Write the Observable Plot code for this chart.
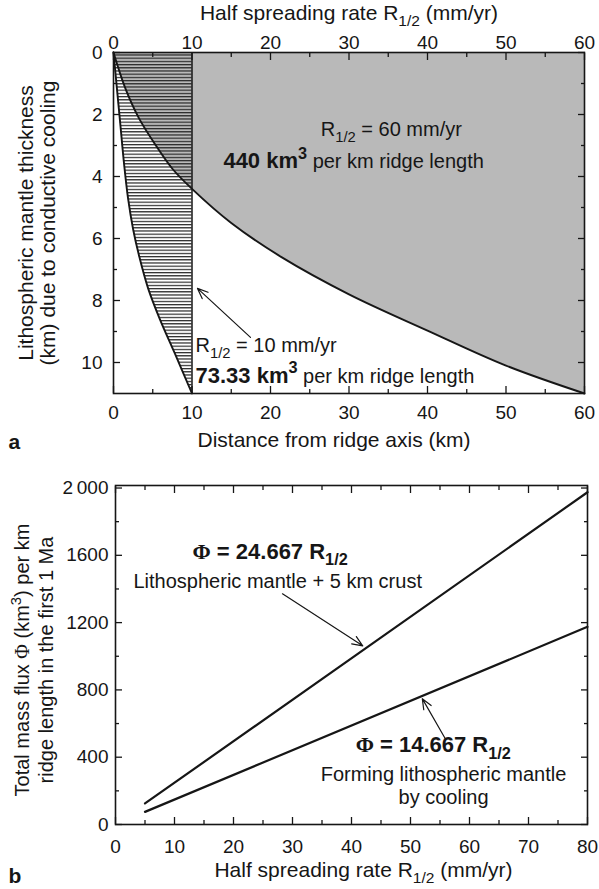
<!DOCTYPE html>
<html><head><meta charset="utf-8">
<script src="https://cdn.jsdelivr.net/npm/d3@7"></script>
<script src="https://cdn.jsdelivr.net/npm/@observablehq/plot@0.6"></script>
<style>body{margin:0;background:#fff;} svg{display:block;} text{white-space:pre;}</style>
</head><body><div id="chart"></div>
<script>
// ---------- Panel a data ----------
const distR60  = [0, 1.5, 3.2, 5.4, 7.5, 10, 15, 21.4, 30, 40, 50, 60];
const depthR60 = [0, 1.15, 2.1, 3.0, 3.75, 4.4, 5.5, 6.6, 7.8, 8.97, 10.1, 11];
const distR10  = [0, 0.45, 0.9, 1.35, 1.85, 2.5, 3.3, 4.4, 5.9, 7.8, 10];
const depthR10 = [0, 1.2, 2.4, 3.6, 4.7, 5.7, 6.6, 7.6, 8.6, 9.7, 11];
const hatchEdge = [10];

const aXLabels = [0, 10, 20, 30, 40, 50, 60];
const aXMinor  = [5, 15, 25, 35, 45, 55];
const aYLabels = [0, 2, 4, 6, 8, 10];
const aYMinor  = [1, 3, 5, 7, 9];

// ---------- Panel b data ----------
const rateEnds   = [5, 80];
const fluxTotal  = [125, 1975];
const fluxMantle = [75, 1175];

const bXLabels = [0, 10, 20, 30, 40, 50, 60, 70, 80];
const bXMinor  = [5, 15, 25, 35, 45, 55, 65, 75];
const bYLabels = [0, 400, 800, 1200, 1600, 2000];
const bYMinor  = [200, 600, 1000, 1400, 1800];

// ---------- annotations ----------
const annotA = [
  {x: 26.4, y: 2.68, segs: [{t: "R"}, {t: "1/2", sub: true}, {t: " = 60 mm/yr"}]},
  {x: 14.0, y: 3.74, segs: [{t: "440 km", bold: true}, {t: "3", sup: true, bold: true}, {t: " per km ridge length"}]},
  {x: 10.45, y: 9.67, segs: [{t: "R"}, {t: "1/2", sub: true}, {t: " = 10 mm/yr"}]},
  {x: 10.45, y: 10.65, segs: [{t: "73.33 km", bold: true}, {t: "3", sup: true, bold: true}, {t: " per km ridge length"}]}
];
const arrowA = [{x1: 17.45, y1: 9.19, x2: 10.7, y2: 7.61}];

const annotB = [
  {x: 13.05, y: 1579, segs: [{t: "Φ", bold: true, serif: true}, {t: " = 24.667 R", bold: true}, {t: "1/2", sub: true, bold: true}]},
  {x: 3.05, y: 1408, segs: [{t: "Lithospheric mantle + 5 km crust"}]},
  {x: 40.7, y: 429, segs: [{t: "Φ", bold: true, serif: true}, {t: " = 14.667 R", bold: true}, {t: "1/2", sub: true, bold: true}]}
];
const annotBCenter = [
  {x: 55.6, y: 257, segs: [{t: "Forming lithospheric mantle"}]},
  {x: 55.6, y: 119, segs: [{t: "by cooling"}]}
];
const arrowB = [
  {x1: 28.3, y1: 1371, x2: 41.9, y2: 1062},
  {x1: 55.9, y1: 510, x2: 52.0, y2: 748}
];

const FONT = "Liberation Sans, Arial, Helvetica, sans-serif";
const INK = "#161616";
const BASE = {size: 20, bold: 22};

function richify(g, rows, index) {
  d3.select(g).selectAll("text").each(function (_, j) {
    const d = rows[index[j]];
    const el = d3.select(this).text(null);
    let cur = 0;
    for (const s of d.segs) {
      const size = s.size ?? (s.bold ? (d.boldSize ?? BASE.bold) : (d.size ?? BASE.size));
      const small = s.sub || s.sup;
      const fs = small ? size * 0.74 : size;
      const off = s.sub ? size * 0.3 : s.sup ? -size * 0.42 : 0;
      const ts = el.append("tspan")
        .attr("font-size", fs)
        .attr("font-weight", s.bold ? "bold" : "normal")
        .attr("dy", off - cur)
        .text(s.t);
      if (s.serif) ts.attr("font-family", "Liberation Serif, Times New Roman, serif");
      cur = off;
    }
  });
}

function rich(rows, opts = {}) {
  return Plot.text(rows, {
    x: "x", y: "y",
    text: d => d.segs.map(s => s.t).join(""),
    textAnchor: "start", lineAnchor: "bottom",
    fill: INK, fontSize: 20,
    ...opts,
    render(index, scales, values, dims, ctx, next) {
      const g = next(index, scales, values, dims, ctx);
      richify(g, rows, index);
      return g;
    }
  });
}

function ticks(axis, anchor, t, size) {
  return axis({anchor, ticks: t, tickSize: -size, tickFormat: () => "", label: null, strokeWidth: 1.3, stroke: INK});
}

// ---------- Panel a ----------
const rowsR60 = distR60.map((x, i) => ({x, z: depthR60[i]}));
const rowsR10 = distR10.map((x, i) => ({x, z: depthR10[i]}));

const titleATop = [{segs: [{t: "Half spreading rate R"}, {t: "1/2", sub: true}, {t: " (mm/yr)"}], size: 21}];
const titleABottom = [{segs: [{t: "Distance from ridge axis (km)"}], size: 21}];
const letterA = [{segs: [{t: "a", bold: true}], boldSize: 21}];
const yLabA1 = [{segs: [{t: "Lithospheric mantle thickness"}], size: 21}];
const yLabA2 = [{segs: [{t: "(km) due to conductive cooling"}], size: 21}];

const plotA = Plot.plot({
  width: 599, height: 460,
  marginTop: 52, marginBottom: 67, marginLeft: 113, marginRight: 15,
  style: {fontFamily: FONT, background: "white", color: INK},
  x: {domain: [0, 60]},
  y: {domain: [0, 11], reverse: true},
  marks: [
    Plot.areaY(rowsR60, {x: "x", y1: 0, y2: "z", fill: "#b9b9b9", curve: "catmull-rom"}),
    Plot.areaY(rowsR10, {x: "x", y1: 0, y2: "z", fill: "url(#hatchA)", curve: "catmull-rom"}),
    Plot.line(rowsR60, {x: "x", y: "z", stroke: INK, strokeWidth: 1.9, curve: "catmull-rom"}),
    Plot.line(rowsR10, {x: "x", y: "z", stroke: INK, strokeWidth: 1.9, curve: "catmull-rom"}),
    Plot.ruleX(hatchEdge, {y1: 0, y2: 11, stroke: INK, strokeWidth: 1.5}),
    // ticks (inward)
    ticks(Plot.axisX, "bottom", aXLabels, 7), ticks(Plot.axisX, "bottom", aXMinor, 4),
    ticks(Plot.axisX, "top", aXLabels, 7), ticks(Plot.axisX, "top", aXMinor, 4),
    ticks(Plot.axisY, "left", aYLabels, 7), ticks(Plot.axisY, "left", aYMinor, 4),
    ticks(Plot.axisY, "right", aYLabels, 7), ticks(Plot.axisY, "right", aYMinor, 4),
    // labels
    Plot.axisX({anchor: "bottom", ticks: aXLabels, tickSize: 0, tickPadding: 11.5, fontSize: 19, label: null}),
    Plot.axisX({anchor: "top", ticks: aXLabels, tickSize: 0, tickPadding: 4, fontSize: 19, label: null}),
    Plot.axisY({anchor: "left", ticks: aYLabels, tickSize: 0, tickPadding: 11, fontSize: 19, label: null}),
    Plot.frame({stroke: INK, strokeWidth: 1.6}),
    Plot.arrow(arrowA, {x1: "x1", y1: "y1", x2: "x2", y2: "y2", stroke: INK, strokeWidth: 1.2, headLength: 14, headAngle: 45}),
    rich(annotA),
    rich(titleATop, {x: undefined, y: undefined, frameAnchor: "top", textAnchor: "middle", dy: -33}),
    rich(titleABottom, {x: undefined, y: undefined, frameAnchor: "bottom", textAnchor: "middle", dx: -15, dy: 53}),
    rich(letterA, {x: undefined, y: undefined, frameAnchor: "bottom-left", textAnchor: "start", dx: -105, dy: 55}),
    rich(yLabA1, {x: undefined, y: undefined, frameAnchor: "left", textAnchor: "middle", lineAnchor: "middle", rotate: -90, dx: -87}),
    rich(yLabA2, {x: undefined, y: undefined, frameAnchor: "left", textAnchor: "middle", lineAnchor: "middle", rotate: -90, dx: -65})
  ]
});
d3.select(plotA).insert("defs", ":first-child").html(
  `<pattern id="hatchA" patternUnits="userSpaceOnUse" width="10" height="3.2">
     <rect x="0" y="0" width="10" height="1.2" fill="#262626"/>
   </pattern>`);

// ---------- Panel b ----------
const rowsTotal = rateEnds.map((r, i) => ({r, v: fluxTotal[i]}));
const rowsMantle = rateEnds.map((r, i) => ({r, v: fluxMantle[i]}));

const titleBBottom = [{segs: [{t: "Half spreading rate R"}, {t: "1/2", sub: true}, {t: " (mm/yr)"}], size: 21}];
const letterB = [{segs: [{t: "b", bold: true}], boldSize: 21}];
const yLabB1 = [{segs: [{t: "Total mass flux "}, {t: "Φ", serif: true}, {t: " (km"}, {t: "3", sup: true}, {t: ") per km"}], size: 20}];
const yLabB2 = [{segs: [{t: "ridge length in the first 1 Ma"}], size: 20}];

const plotB = Plot.plot({
  width: 599, height: 429,
  marginTop: 25, marginBottom: 65, marginLeft: 115, marginRight: 12,
  style: {fontFamily: FONT, background: "white", color: INK},
  x: {domain: [0, 80]},
  y: {domain: [0, 2015]},
  marks: [
    Plot.line(rowsTotal, {x: "r", y: "v", stroke: INK, strokeWidth: 2.2}),
    Plot.line(rowsMantle, {x: "r", y: "v", stroke: INK, strokeWidth: 2.2}),
    ticks(Plot.axisX, "bottom", bXLabels, 7), ticks(Plot.axisX, "bottom", bXMinor, 4),
    ticks(Plot.axisX, "top", bXLabels, 7), ticks(Plot.axisX, "top", bXMinor, 4),
    ticks(Plot.axisY, "left", bYLabels, 7), ticks(Plot.axisY, "left", bYMinor, 4),
    ticks(Plot.axisY, "right", bYLabels, 7), ticks(Plot.axisY, "right", bYMinor, 4),
    Plot.axisX({anchor: "bottom", ticks: bXLabels, tickSize: 0, tickPadding: 14.5, fontSize: 19, label: null}),
    Plot.axisY({anchor: "left", ticks: bYLabels, tickSize: 0, tickPadding: 7, fontSize: 19, label: null,
      tickFormat: d => d === 2000 ? "2\u2009000" : String(d)}),
    Plot.frame({stroke: INK, strokeWidth: 1.6}),
    Plot.arrow(arrowB, {x1: "x1", y1: "y1", x2: "x2", y2: "y2", stroke: INK, strokeWidth: 1.2, headLength: 14, headAngle: 45}),
    rich(annotB),
    rich(annotBCenter, {textAnchor: "middle"}),
    rich(titleBBottom, {x: undefined, y: undefined, frameAnchor: "bottom", textAnchor: "middle", dx: 12, dy: 52}),
    rich(letterB, {x: undefined, y: undefined, frameAnchor: "bottom-left", textAnchor: "start", dx: -107, dy: 58}),
    rich(yLabB1, {x: undefined, y: undefined, frameAnchor: "left", textAnchor: "middle", lineAnchor: "middle", rotate: -90, dx: -93, dy: 5}),
    rich(yLabB2, {x: undefined, y: undefined, frameAnchor: "left", textAnchor: "middle", lineAnchor: "middle", rotate: -90, dx: -69, dy: 5})
  ]
});

const host = document.getElementById("chart");
host.appendChild(plotA);
host.appendChild(plotB);
</script>
</body></html>
